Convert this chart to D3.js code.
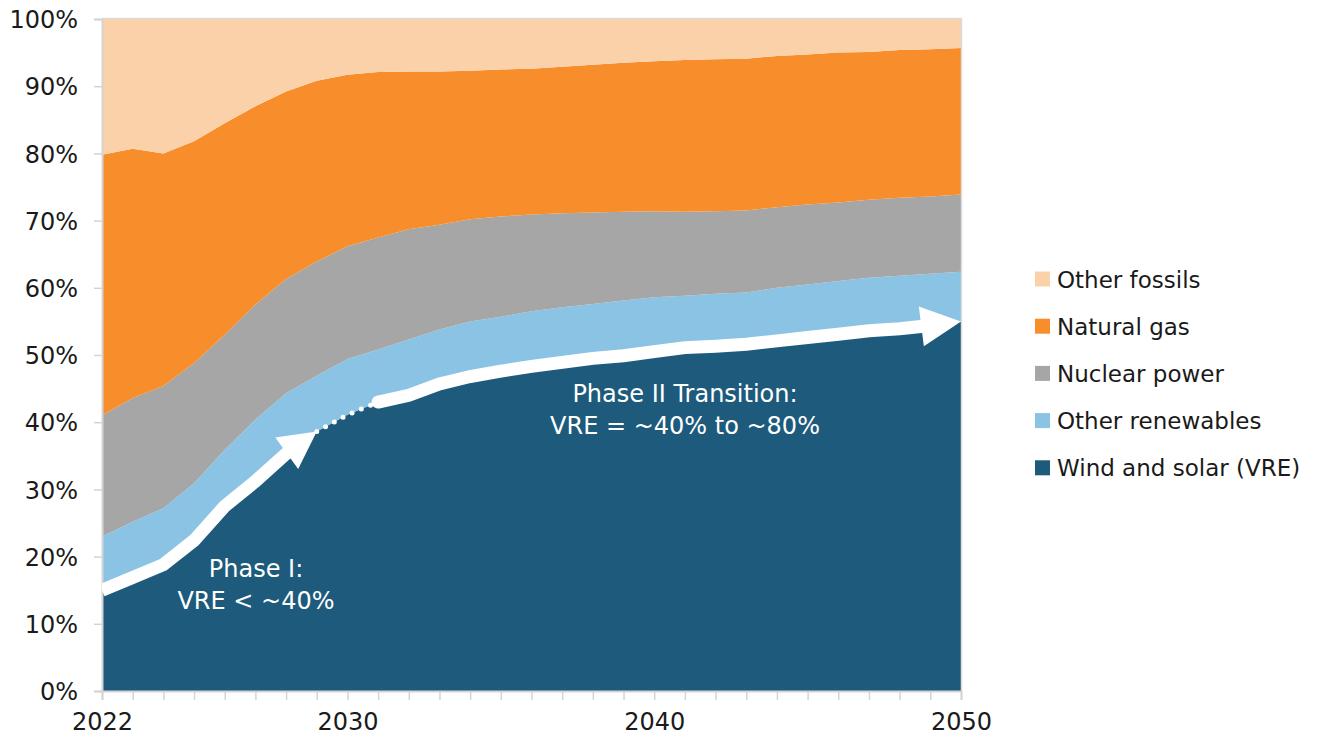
<!DOCTYPE html>
<html>
<head>
<meta charset="utf-8">
<script src="https://cdn.jsdelivr.net/npm/d3@7"></script>
<style>
  html, body { margin: 0; padding: 0; background: #fff; }
  svg { display: block; }
  text { font-family: "DejaVu Sans", sans-serif; }
</style>
</head>
<body>
<svg id="chart" width="1325" height="742"></svg>
<script>
// Electricity generation mix, share of total (%), 2022–2050
const years = d3.range(2022, 2051);

const windSolar = [15.0, 16.9, 18.8, 22.4, 27.5, 31.2, 35.3, 38.6, 41.1, 43.0,
  44.0, 45.7, 46.8, 47.6, 48.3, 48.9, 49.5, 49.9, 50.5, 51.1,
  51.3, 51.6, 52.1, 52.6, 53.1, 53.6, 53.9, 54.4, 55.0];
const otherRenewables = [8.0, 8.3, 8.4, 8.5, 8.4, 9.2, 9.0, 8.3, 8.3, 7.8,
  8.3, 8.1, 8.2, 8.1, 8.2, 8.2, 8.1, 8.2, 8.1, 7.7,
  7.8, 7.7, 7.9, 7.9, 7.9, 7.9, 7.9, 7.7, 7.4];
const nuclear = [18.0, 18.4, 18.2, 17.9, 17.1, 17.1, 17.0, 17.0, 16.8, 16.7,
  16.4, 15.6, 15.2, 14.9, 14.4, 14.0, 13.6, 13.2, 12.8, 12.5,
  12.3, 12.2, 12.0, 11.9, 11.7, 11.6, 11.6, 11.5, 11.5];
const naturalGas = [38.8, 37.1, 34.6, 33.0, 31.5, 29.5, 27.9, 26.9, 25.5, 24.6,
  23.5, 22.8, 22.1, 21.9, 21.7, 21.8, 22.0, 22.2, 22.3, 22.6,
  22.6, 22.6, 22.5, 22.3, 22.3, 22.0, 22.0, 21.9, 21.8];
const otherFossils = [20.2, 19.3, 20.0, 18.2, 15.5, 13.0, 10.8, 9.2, 8.3, 7.9,
  7.8, 7.8, 7.7, 7.5, 7.4, 7.1, 6.8, 6.5, 6.3, 6.1,
  6.0, 5.9, 5.5, 5.3, 5.0, 4.9, 4.6, 4.5, 4.3];

const seriesNames = ["Wind and solar (VRE)", "Other renewables", "Nuclear power", "Natural gas", "Other fossils"];
const seriesColors = ["#1d5a7b", "#8ac3e4", "#a6a6a6", "#f78d2b", "#fbd1a9"];
const yTickValues = [0, 10, 20, 30, 40, 50, 60, 70, 80, 90, 100];
const xLabelYears = [2022, 2030, 2040, 2050];

// Phase annotations
const phase1Range = [2022, 2029];
const dotRange = [2029, 2031];
const phase2Range = [2031, 2050];
const phase1Text = ["Phase I:", "VRE < ~40%"];
const phase2Text = ["Phase II Transition:", "VRE = ~40% to ~80%"];

const table = years.map((yr, i) => ({
  year: yr,
  [seriesNames[0]]: windSolar[i],
  [seriesNames[1]]: otherRenewables[i],
  [seriesNames[2]]: nuclear[i],
  [seriesNames[3]]: naturalGas[i],
  [seriesNames[4]]: otherFossils[i]
}));

const svg = d3.select("#chart");
const plotLeft = 102, plotRight = 961, plotTop = 19, plotBottom = 691;

const x = d3.scaleLinear().domain([2022, 2050]).range([plotLeft, plotRight]);
const y = d3.scaleLinear().domain([0, 100]).range([plotBottom, plotTop]);

const stacked = d3.stack().keys(seriesNames)(table);

const area = d3.area()
  .x(d => x(d.data.year))
  .y0(d => y(d[0]))
  .y1(d => y(d[1]));

svg.append("clipPath").attr("id", "plotClip")
  .append("rect").attr("x", plotLeft).attr("y", plotTop)
  .attr("width", plotRight - plotLeft).attr("height", plotBottom - plotTop);

const plot = svg.append("g").attr("clip-path", "url(#plotClip)");

plot.selectAll("path.layer")
  .data(stacked)
  .join("path")
  .attr("class", "layer")
  .attr("fill", (d, i) => seriesColors[i])
  .attr("d", area);

// Plot frame (top and right edges)
svg.append("path")
  .attr("d", `M${plotLeft},${plotTop - 0.5}H${plotRight + 0.5}V${plotBottom}`)
  .attr("fill", "none")
  .attr("stroke", "#dcdcdc")
  .attr("stroke-width", 1.5);

// Axes
const yAxis = d3.axisLeft(y).tickValues(yTickValues).tickSize(8).tickPadding(16)
  .tickFormat(d => d + "%");
const gy = svg.append("g").attr("transform", `translate(${plotLeft},0)`).call(yAxis);
gy.select(".domain").attr("stroke", "#d4d4d4").attr("stroke-width", 2);
gy.selectAll(".tick line").attr("stroke", "#d4d4d4").attr("stroke-width", 1.5);
gy.selectAll(".tick text").attr("fill", "#1a1a1a").style("font-size", "24px")
  .attr("dy", "0.36em");

const xAxis = d3.axisBottom(x).tickValues(years).tickSize(9).tickPadding(0)
  .tickFormat(d => xLabelYears.includes(d) ? String(d) : "");
const gx = svg.append("g").attr("transform", `translate(0,${plotBottom})`).call(xAxis);
gx.select(".domain").attr("stroke", "#d4d4d4").attr("stroke-width", 2);
gx.selectAll(".tick line").attr("stroke", "#d4d4d4").attr("stroke-width", 1.5);
gx.selectAll(".tick text").attr("fill", "#1a1a1a").style("font-size", "24px")
  .attr("y", 39).attr("dy", 0);

// Phase arrows drawn along the top edge of the wind and solar layer
const vreAt = yr => windSolar[years.indexOf(yr)];
const pts = range => d3.range(range[0], range[1] + 1).map(yr => [x(yr), y(vreAt(yr))]);

// Shorten a polyline by a given length at its end
function trimEnd(points, len) {
  const p = points.slice();
  let remaining = len;
  while (p.length > 1) {
    const a = p[p.length - 2], b = p[p.length - 1];
    const seg = Math.hypot(b[0] - a[0], b[1] - a[1]);
    if (seg > remaining) {
      const t = (seg - remaining) / seg;
      p[p.length - 1] = [a[0] + (b[0] - a[0]) * t, a[1] + (b[1] - a[1]) * t];
      return p;
    }
    remaining -= seg;
    p.pop();
  }
  return p;
}

function arrow(g, points, headLen, headWidth, capStart) {
  const tip = points[points.length - 1];
  const shaft = trimEnd(points, headLen - 2);
  const base = shaft[shaft.length - 1];
  g.append("path")
    .attr("d", d3.line()(shaft))
    .attr("fill", "none")
    .attr("stroke", "#fff")
    .attr("stroke-width", 13)
    .attr("stroke-linejoin", "miter")
    .attr("stroke-linecap", capStart ? "round" : "butt");
  const dx = tip[0] - base[0], dy = tip[1] - base[1];
  const L = Math.hypot(dx, dy);
  const ux = dx / L, uy = dy / L;
  const bx = tip[0] - ux * headLen, by = tip[1] - uy * headLen;
  const nx = -uy, ny = ux;
  const hw = headWidth / 2;
  g.append("path")
    .attr("d", `M${tip[0]},${tip[1]}L${bx + nx * hw},${by + ny * hw}L${bx - nx * hw},${by - ny * hw}Z`)
    .attr("fill", "#fff");
}

const ann = svg.append("g").attr("clip-path", "url(#plotClip)");
arrow(ann, pts(phase1Range), 37, 39, false);

ann.append("path")
  .attr("d", d3.line()(pts(dotRange)))
  .attr("fill", "none")
  .attr("stroke", "#fff")
  .attr("stroke-width", 5)
  .attr("stroke-linecap", "round")
  .attr("stroke-dasharray", "0 10");

arrow(ann, pts(phase2Range), 40, 40, true);

// Phase labels
function label(lines, cx, baseline) {
  const t = svg.append("text")
    .attr("text-anchor", "middle")
    .attr("fill", "#fff")
    .style("font-size", "24px");
  lines.forEach((s, i) => {
    t.append("tspan").attr("x", cx).attr("y", baseline + i * 32).text(s);
  });
}
label(phase1Text, 256, 577);
label(phase2Text, 685, 402);

// Legend (top entry is the top layer)
const legend = svg.append("g").attr("transform", "translate(1035,0)");
const legendOrder = seriesNames.map((n, i) => ({ name: n, color: seriesColors[i] })).reverse();
legend.selectAll("g.item")
  .data(legendOrder)
  .join("g")
  .attr("class", "item")
  .attr("transform", (d, i) => `translate(0,${279 + i * 47.2})`)
  .each(function (d) {
    const g = d3.select(this);
    g.append("rect").attr("x", 0).attr("y", -7.5).attr("width", 15).attr("height", 15).attr("fill", d.color);
    g.append("text").attr("x", 22).attr("y", 8.5).attr("fill", "#1a1a1a")
      .style("font-size", "23px").text(d.name);
  });
</script>
</body>
</html>
